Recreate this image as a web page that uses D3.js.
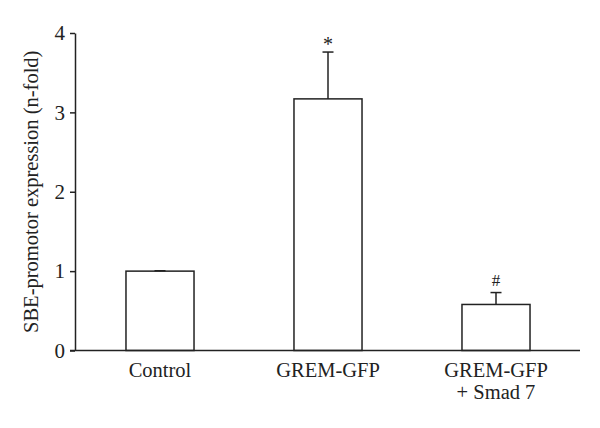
<!DOCTYPE html>
<html>
<head>
<meta charset="utf-8">
<script src="https://cdn.jsdelivr.net/npm/d3@7"></script>
<style>
  body { margin: 0; background: #fff; }
  text { font-family: "Liberation Serif", "DejaVu Serif", serif; fill: #222; }
</style>
</head>
<body>
<script>
// Data
const groups = ["Control", "GREM-GFP", "GREM-GFP\n+ Smad 7"];
const means = [1.0, 3.17, 0.58];
const errors = [0.005, 0.59, 0.15];
const marks = ["", "*", "#"];
const yTicks = [0, 1, 2, 3, 4];

const width = 600;
const height = 428;
const margin = { top: 33, right: 20, bottom: 78, left: 75 };

const svg = d3
  .select("body")
  .append("svg")
  .attr("width", width)
  .attr("height", height);

const y = d3
  .scaleLinear()
  .domain([0, 4])
  .range([height - margin.bottom + 0.5, margin.top]);

const x = d3
  .scaleBand()
  .domain(groups)
  .range([76, 580])
  .paddingInner(0.595)
  .paddingOuter(0.2975);

// y axis
const yAxis = svg
  .append("g")
  .attr("transform", `translate(${margin.left}, 0)`)
  .call(d3.axisLeft(y).tickValues(yTicks).tickFormat(d3.format("d")).tickSize(5).tickSizeOuter(0).tickPadding(5));

yAxis.select(".domain").attr("stroke", "#222").attr("stroke-width", 1.5);
yAxis.selectAll(".tick line").attr("stroke", "#222").attr("stroke-width", 1.5);
yAxis.selectAll(".tick text")
  .style("font-size", "21px")
  .style("font-family", "Liberation Serif")
  .attr("fill", "#222");

// bars
svg
  .selectAll(".bar")
  .data(groups)
  .enter()
  .append("rect")
  .attr("class", "bar")
  .attr("x", (d) => x(d))
  .attr("y", (d, i) => y(means[i]))
  .attr("width", x.bandwidth())
  .attr("height", (d, i) => y(0) - y(means[i]))
  .attr("fill", "#fff")
  .attr("stroke", "#222")
  .attr("stroke-width", 1.5);

// error bars (upper only)
const cx = (d) => x(d) + x.bandwidth() / 2;
svg
  .selectAll(".err")
  .data(groups)
  .enter()
  .append("line")
  .attr("x1", cx)
  .attr("x2", cx)
  .attr("y1", (d, i) => y(means[i]))
  .attr("y2", (d, i) => y(means[i] + errors[i]))
  .attr("stroke", "#222")
  .attr("stroke-width", 1.5);

svg
  .selectAll(".cap")
  .data(groups)
  .enter()
  .append("line")
  .attr("x1", (d) => cx(d) - 5.5)
  .attr("x2", (d) => cx(d) + 5.5)
  .attr("y1", (d, i) => y(means[i] + errors[i]))
  .attr("y2", (d, i) => y(means[i] + errors[i]))
  .attr("stroke", "#222")
  .attr("stroke-width", 1.5);

// significance marks
svg
  .selectAll(".mark")
  .data(groups)
  .enter()
  .append("text")
  .attr("x", cx)
  .attr("y", (d, i) => y(means[i] + errors[i]) - (i === 1 ? 1 : 7))
  .attr("text-anchor", "middle")
  .style("font-size", (d, i) => (i === 1 ? "20px" : "17px"))
  .text((d, i) => marks[i]);

// x axis baseline
svg
  .append("line")
  .attr("x1", 70)
  .attr("x2", 580)
  .attr("y1", y(0))
  .attr("y2", y(0))
  .attr("stroke", "#222")
  .attr("stroke-width", 1.5);

// x labels (two lines for the last group)
svg
  .selectAll(".xlabel")
  .data(groups)
  .enter()
  .append("text")
  .attr("class", "xlabel")
  .attr("text-anchor", "middle")
  .style("font-size", "20.5px")
  .each(function (d) {
    const t = d3.select(this);
    d.split("\n").forEach((line, i) => {
      t.append("tspan")
        .attr("x", cx(d))
        .attr("y", y(0) + 26 + i * 22)
        .text(line);
    });
  });

// y label
svg
  .append("text")
  .attr("transform", `translate(38, ${(y(0) + y(4)) / 2}) rotate(-90)`)
  .attr("text-anchor", "middle")
  .style("font-size", "20.5px")
  .text("SBE-promotor expression (n-fold)");
</script>
</body>
</html>
